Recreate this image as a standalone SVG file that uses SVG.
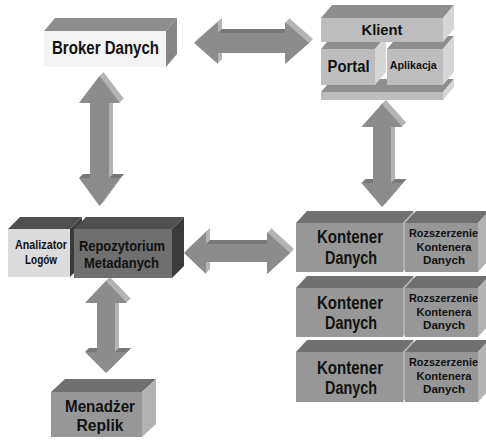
<svg xmlns="http://www.w3.org/2000/svg" xmlns:xlink="http://www.w3.org/1999/xlink" width="486" height="441" viewBox="0 0 486 441">
  <style>
    text { font-family: "Liberation Sans Narrow", "Liberation Sans", Arial, sans-serif; font-weight: bold; fill: #111; text-anchor: middle; }
    .ext { fill: #b4b4b4; }
    .shade { fill: #787878; }
    .arrow { fill: #8c8c8c; }
    .lt-front { fill: #f4f4f4; }
    .lt-top { fill: #8e8e8e; }
    .lt-side { fill: #868686; }
    .cl-front { fill: #bdbdbd; }
    .cl-top { fill: #8e8e8e; }
    .cl-side { fill: #d6d6d6; }
    .md-front { fill: #979797; }
    .md-top { fill: #707070; }
    .md-side { fill: #b3b3b3; }
    .dk-front { fill: #6f6f6f; }
    .dk-top { fill: #4f4f4f; }
    .dk-side { fill: #3a3a3a; }
    .pale { fill: #dcdcdc; }
  </style>
  <defs>
    <!-- front faces of the double-headed block arrows -->
    <polygon id="arrTop" points="194,43 218,22 218,33 285,33 285,22 309,43 285,64 285,53 218,53 218,64"/>
    <polygon id="arrLeft" points="99.5,76 79,103 90,103 90,178 79,178 99.5,206 120,178 109,178 109,103 120,103"/>
    <polygon id="arrRight" points="382,104 361.5,127 373,127 373,183 361.5,183 382,207 402.5,183 391,183 391,127 402.5,127"/>
    <polygon id="arrMid" points="184,253 206,232 206,244 267,244 267,232 290,253 267,274 267,262 206,262 206,274"/>
    <polygon id="arrBottom" points="106,281 85,303 97,303 97,352 85,352 106,373 127,352 115,352 115,303 127,303"/>
  </defs>

  <g id="connectors">
    <!-- Broker Danych <-> Klient -->
    <g id="conn-broker-klient">
      <use xlink:href="#arrTop" class="ext" x="1" y="-1"/>
      <use xlink:href="#arrTop" class="ext" x="2" y="-2"/>
      <use xlink:href="#arrTop" class="ext" x="3" y="-3"/>
      <use xlink:href="#arrTop" class="ext" x="4" y="-4"/>
      <polygon class="shade" points="218,33 285,33 289,29 222,29"/>
      <use xlink:href="#arrTop" class="arrow"/>
    </g>
    <!-- Broker Danych <-> Repozytorium -->
    <g id="conn-broker-repo">
      <use xlink:href="#arrLeft" class="ext" x="1" y="-1"/>
      <use xlink:href="#arrLeft" class="ext" x="2" y="-2"/>
      <use xlink:href="#arrLeft" class="ext" x="3" y="-3"/>
      <use xlink:href="#arrLeft" class="ext" x="4" y="-4"/>
      <polygon class="shade" points="79,178 90,178 94,174 83,174"/>
      <polygon class="shade" points="109,178 120,178 124,174 113,174"/>
      <use xlink:href="#arrLeft" class="arrow"/>
    </g>
    <!-- Klient <-> Kontener Danych -->
    <g id="conn-klient-kontener">
      <use xlink:href="#arrRight" class="ext" x="1" y="-1"/>
      <use xlink:href="#arrRight" class="ext" x="2" y="-2"/>
      <use xlink:href="#arrRight" class="ext" x="3" y="-3"/>
      <use xlink:href="#arrRight" class="ext" x="4" y="-4"/>
      <polygon class="shade" points="361.5,183 373,183 377,179 365.5,179"/>
      <polygon class="shade" points="391,183 402.5,183 406.5,179 395,179"/>
      <use xlink:href="#arrRight" class="arrow"/>
    </g>
    <!-- Repozytorium <-> Kontener Danych -->
    <g id="conn-repo-kontener">
      <use xlink:href="#arrMid" class="ext" x="1" y="-1"/>
      <use xlink:href="#arrMid" class="ext" x="2" y="-2"/>
      <use xlink:href="#arrMid" class="ext" x="3" y="-3"/>
      <use xlink:href="#arrMid" class="ext" x="4" y="-4"/>
      <polygon class="shade" points="206,244 267,244 271,240 210,240"/>
      <use xlink:href="#arrMid" class="arrow"/>
    </g>
    <!-- Repozytorium <-> Menadżer Replik -->
    <g id="conn-repo-menadzer">
      <use xlink:href="#arrBottom" class="ext" x="1" y="-1"/>
      <use xlink:href="#arrBottom" class="ext" x="2" y="-2"/>
      <use xlink:href="#arrBottom" class="ext" x="3" y="-3"/>
      <use xlink:href="#arrBottom" class="ext" x="4" y="-4"/>
      <polygon class="shade" points="85,352 97,352 101,348 89,348"/>
      <polygon class="shade" points="115,352 127,352 131,348 119,348"/>
      <use xlink:href="#arrBottom" class="arrow"/>
    </g>
  </g>

  <g id="broker-danych">
    <polygon class="lt-top" points="44,31 55,18 177,18 166,31"/>
    <polygon class="lt-side" points="166,31 177,18 177,54 166,67"/>
    <rect class="lt-front" x="44" y="31" width="122" height="36"/>
    <text x="105.5" y="54" font-size="17.5" textLength="107" lengthAdjust="spacingAndGlyphs">Broker Danych</text>
  </g>

  <g id="klient">
    <!-- base slab -->
    <polygon class="cl-top" points="321,92 332,79 454,79 443,92"/>
    <polygon class="cl-side" points="443,92 454,79 454,87 443,100"/>
    <rect class="cl-front" x="321" y="92" width="122" height="8"/>
    <!-- Portal -->
    <g id="portal">
      <polygon class="cl-top" points="321,49 332,36 386,36 375,49"/>
      <polygon class="cl-side" points="375,49 386,36 386,72 375,85"/>
      <rect class="cl-front" x="321" y="49" width="54" height="36"/>
      <text x="348.5" y="71.7" font-size="16" textLength="42" lengthAdjust="spacingAndGlyphs">Portal</text>
    </g>
    <!-- Aplikacja -->
    <g id="aplikacja">
      <polygon class="cl-top" points="387,49 398,36 454,36 443,49"/>
      <polygon class="cl-side" points="443,49 454,36 454,72 443,85"/>
      <rect class="cl-front" x="387" y="49" width="56" height="36"/>
      <text x="413.3" y="69" font-size="11" textLength="47" lengthAdjust="spacingAndGlyphs">Aplikacja</text>
    </g>
    <!-- Klient header slab -->
    <polygon class="cl-top" points="321,18 332,5 454,5 443,18"/>
    <polygon class="cl-side" points="443,18 454,5 454,29 443,42"/>
    <rect class="cl-front" x="321" y="18" width="122" height="24"/>
    <text x="382" y="35.3" font-size="15" textLength="41" lengthAdjust="spacingAndGlyphs">Klient</text>
  </g>

  <g id="analizator-logow">
    <polygon class="dk-top" points="8,229 20,217 82,217 70,229"/>
    <polygon class="dk-side" points="70,229 82,217 82,265 70,277"/>
    <rect class="pale" x="8" y="229" width="62" height="48"/>
    <text x="41" y="249" font-size="12.5" textLength="52" lengthAdjust="spacingAndGlyphs">Analizator</text>
    <text x="41" y="264" font-size="12.5" textLength="32" lengthAdjust="spacingAndGlyphs">Logów</text>
  </g>

  <g id="repozytorium-metadanych">
    <polygon class="dk-top" points="74,229 86,217 184,217 172,229"/>
    <polygon class="dk-side" points="172,229 184,217 184,266 172,278"/>
    <rect class="dk-front" x="74" y="229" width="98" height="49"/>
    <text x="122" y="251" font-size="15" textLength="86" lengthAdjust="spacingAndGlyphs">Repozytorium</text>
    <text x="121.5" y="268" font-size="15" textLength="75" lengthAdjust="spacingAndGlyphs">Metadanych</text>
  </g>

  <g id="kontener-1">
    <polygon class="md-top" points="296,223 307,211 414,211 403,223"/>
    <polygon class="md-side" points="403,223 414,211 414,260 403,272"/>
    <rect class="md-front" x="296" y="223" width="107" height="49"/>
    <text x="350" y="243" font-size="18" textLength="66" lengthAdjust="spacingAndGlyphs">Kontener</text>
    <text x="351" y="264" font-size="18" textLength="52" lengthAdjust="spacingAndGlyphs">Danych</text>
  </g>
  <g id="rozszerzenie-1">
    <polygon class="md-top" points="405,223 416,211 489,211 478,223"/>
    <polygon class="md-side" points="478,223 489,211 489,260 478,272"/>
    <rect class="md-front" x="405" y="223" width="73" height="49"/>
    <text x="443.5" y="237" font-size="11.5" textLength="69" lengthAdjust="spacingAndGlyphs">Rozszerzenie</text>
    <text x="444" y="251" font-size="11.5" textLength="55" lengthAdjust="spacingAndGlyphs">Kontenera</text>
    <text x="444" y="264" font-size="11.5" textLength="42" lengthAdjust="spacingAndGlyphs">Danych</text>
  </g>

  <g id="kontener-2">
    <polygon class="md-top" points="296,288 307,276 414,276 403,288"/>
    <polygon class="md-side" points="403,288 414,276 414,325 403,337"/>
    <rect class="md-front" x="296" y="288" width="107" height="49"/>
    <text x="350" y="309" font-size="18" textLength="66" lengthAdjust="spacingAndGlyphs">Kontener</text>
    <text x="351" y="329" font-size="18" textLength="52" lengthAdjust="spacingAndGlyphs">Danych</text>
  </g>
  <g id="rozszerzenie-2">
    <polygon class="md-top" points="405,288 416,276 489,276 478,288"/>
    <polygon class="md-side" points="478,288 489,276 489,325 478,337"/>
    <rect class="md-front" x="405" y="288" width="73" height="49"/>
    <text x="443.5" y="302" font-size="11.5" textLength="69" lengthAdjust="spacingAndGlyphs">Rozszerzenie</text>
    <text x="444" y="316" font-size="11.5" textLength="55" lengthAdjust="spacingAndGlyphs">Kontenera</text>
    <text x="444" y="329" font-size="11.5" textLength="42" lengthAdjust="spacingAndGlyphs">Danych</text>
  </g>

  <g id="kontener-3">
    <polygon class="md-top" points="296,352 307,340 414,340 403,352"/>
    <polygon class="md-side" points="403,352 414,340 414,390 403,402"/>
    <rect class="md-front" x="296" y="352" width="107" height="50"/>
    <text x="350" y="374" font-size="18" textLength="66" lengthAdjust="spacingAndGlyphs">Kontener</text>
    <text x="351" y="394" font-size="18" textLength="52" lengthAdjust="spacingAndGlyphs">Danych</text>
  </g>
  <g id="rozszerzenie-3">
    <polygon class="md-top" points="405,352 416,340 489,340 478,352"/>
    <polygon class="md-side" points="478,352 489,340 489,390 478,402"/>
    <rect class="md-front" x="405" y="352" width="73" height="50"/>
    <text x="443.5" y="366" font-size="11.5" textLength="69" lengthAdjust="spacingAndGlyphs">Rozszerzenie</text>
    <text x="444" y="380" font-size="11.5" textLength="55" lengthAdjust="spacingAndGlyphs">Kontenera</text>
    <text x="444" y="393" font-size="11.5" textLength="42" lengthAdjust="spacingAndGlyphs">Danych</text>
  </g>

  <g id="menadzer-replik">
    <polygon class="md-top" points="51,392 65,379 156,379 142,392"/>
    <polygon class="md-side" points="142,392 156,379 156,424 142,437"/>
    <rect class="md-front" x="51" y="392" width="91" height="45"/>
    <text x="100" y="412" font-size="16" textLength="70" lengthAdjust="spacingAndGlyphs">Menadżer</text>
    <text x="100" y="431" font-size="16" textLength="47" lengthAdjust="spacingAndGlyphs">Replik</text>
  </g>
</svg>
